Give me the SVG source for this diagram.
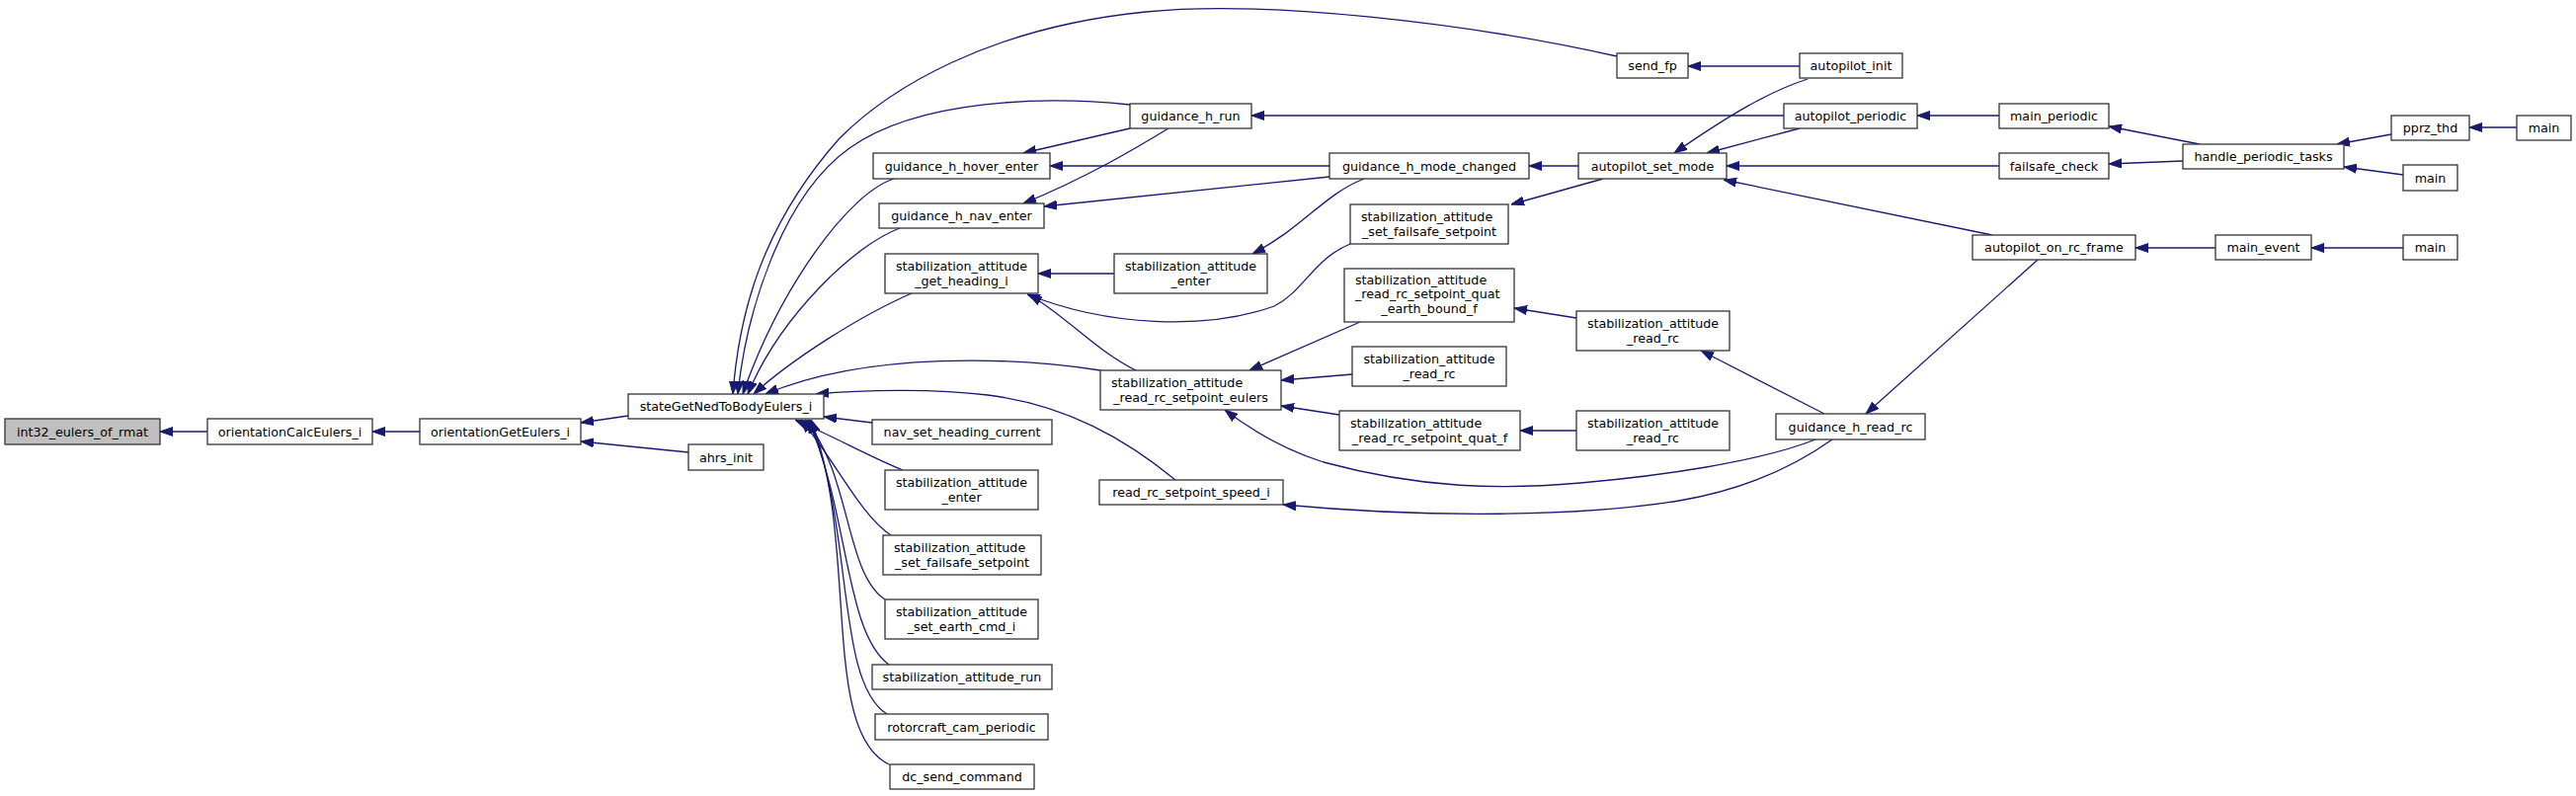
<svg xmlns="http://www.w3.org/2000/svg" width="2608" height="806" viewBox="0 0 2608 806">
<style>
.node rect{fill:#fff;stroke:#333;stroke-width:1.3}
.node rect.root{fill:#bfbfbf}
text{font-family:"DejaVu Sans","Liberation Sans",sans-serif;font-size:12.7px;fill:#000}
.c{text-anchor:middle}
.l{text-anchor:start}
#edges path{fill:none;stroke:#191970;stroke-width:1.3;marker-end:url(#ah)}
</style>
<defs>
<marker id="ah" viewBox="0 0 13 10" markerWidth="13" markerHeight="10" refX="13" refY="5" markerUnits="userSpaceOnUse" orient="auto">
<path d="M0,0.5 L13,5 L0,9.5 Z" fill="#191970" stroke="#191970" stroke-width="1"/>
</marker>
</defs>
<rect x="0" y="0" width="2608" height="806" fill="#fff"/>
<g id="edges">
<path d="M210,437 L162,437"/>
<path d="M425,437 L377,437"/>
<path d="M636,421 L588,428"/>
<path d="M697,458 L588,447"/>
<path d="M1637,57 C1480,22 1280,0 1160,12 C1000,28 900,90 850,140 C770,230 748,320 742,399"/>
<path d="M1144,106 C1060,97 930,100 860,150 C790,200 755,320 747,399"/>
<path d="M905,181 C860,195 790,290 752,399"/>
<path d="M911,231 C865,248 790,320 757,399"/>
<path d="M923,297 C870,320 800,365 763,399"/>
<path d="M1114,375 C1030,362 880,355 775,399"/>
<path d="M1190,486 C1140,445 1080,410 1000,400 C950,394 880,394 826,399"/>
<path d="M883,428 L834,422"/>
<path d="M914,476 C880,462 850,445 805,425"/>
<path d="M902,542 C870,520 848,470 811,425"/>
<path d="M896,607 C855,580 862,480 815,425"/>
<path d="M900,673 C855,640 860,520 818,425"/>
<path d="M898,723 C845,690 865,530 819,425"/>
<path d="M900,774 C830,740 870,550 821,425"/>
<path d="M1144,130 L1036,155"/>
<path d="M1346,168 L1063,168"/>
<path d="M1183,130 C1150,150 1100,180 1036,206"/>
<path d="M1346,179 L1057,209"/>
<path d="M1806,117 L1267,117"/>
<path d="M1822,67 L1709,67"/>
<path d="M1128,277 L1051,277"/>
<path d="M1367,247 C1330,262 1320,295 1290,310 C1220,335 1120,330 1040,298"/>
<path d="M1150,375 C1110,355 1085,325 1042,298"/>
<path d="M1381,181 C1340,197 1320,230 1268,257"/>
<path d="M1598,168 L1548,168"/>
<path d="M1623,181 L1530,207"/>
<path d="M1596,322 L1533,312"/>
<path d="M1377,326 L1265,375"/>
<path d="M1369,379 L1297,385"/>
<path d="M1356,420 L1297,411"/>
<path d="M1838,445 C1780,468 1680,482 1600,489 C1520,496 1440,495 1340,468 C1300,455 1270,438 1240,415"/>
<path d="M1855,445 C1820,470 1770,495 1700,507 C1600,523 1450,525 1299,511"/>
<path d="M1596,436 L1539,436"/>
<path d="M1830,80 C1790,93 1750,117 1695,155"/>
<path d="M1822,130 L1728,155"/>
<path d="M2024,168 L1748,168"/>
<path d="M2017,238 L1745,182"/>
<path d="M1847,419 L1722,355"/>
<path d="M2063,263 L1889,419"/>
<path d="M2024,117 L1941,117"/>
<path d="M2227,146 L2135,128"/>
<path d="M2210,163 L2135,166"/>
<path d="M2243,251 L2162,251"/>
<path d="M2421,136 L2366,146"/>
<path d="M2433,177 L2373,169"/>
<path d="M2548,129 L2500,129"/>
<path d="M2433,251 L2340,251"/>
</g>
<g id="n0" class="node"><rect class="root" x="5" y="424" width="157" height="26"/><text class="c" x="83.5" y="441.5">int32_eulers_of_rmat</text></g>
<g id="n1" class="node"><rect x="210" y="424" width="167" height="26"/><text class="c" x="293.5" y="441.5">orientationCalcEulers_i</text></g>
<g id="n2" class="node"><rect x="425" y="424" width="163" height="26"/><text class="c" x="506.5" y="441.5">orientationGetEulers_i</text></g>
<g id="n3" class="node"><rect x="636" y="399" width="198" height="25"/><text class="c" x="735" y="416">stateGetNedToBodyEulers_i</text></g>
<g id="n4" class="node"><rect x="697" y="450" width="76" height="26"/><text class="c" x="735" y="467.5">ahrs_init</text></g>
<g id="n5" class="node"><rect x="884" y="155" width="179" height="26"/><text class="c" x="973.5" y="172.5">guidance_h_hover_enter</text></g>
<g id="n6" class="node"><rect x="890" y="206" width="167" height="25"/><text class="c" x="973.5" y="223">guidance_h_nav_enter</text></g>
<g id="n7" class="node"><rect x="896" y="257" width="155" height="40"/><text class="c" x="973.5" y="274">stabilization_attitude</text><text class="c" x="973.5" y="288.5">_get_heading_i</text></g>
<g id="n8" class="node"><rect x="883" y="425" width="182" height="25"/><text class="c" x="974" y="442">nav_set_heading_current</text></g>
<g id="n9" class="node"><rect x="896" y="476" width="155" height="40"/><text class="c" x="973.5" y="493">stabilization_attitude</text><text class="c" x="973.5" y="507.5">_enter</text></g>
<g id="n10" class="node"><rect x="894" y="542" width="160" height="40"/><text class="l" x="905" y="559">stabilization_attitude</text><text class="c" x="974" y="573.5">_set_failsafe_setpoint</text></g>
<g id="n11" class="node"><rect x="896" y="607" width="155" height="40"/><text class="c" x="973.5" y="624">stabilization_attitude</text><text class="c" x="973.5" y="638.5">_set_earth_cmd_i</text></g>
<g id="n12" class="node"><rect x="883" y="673" width="182" height="25"/><text class="c" x="974" y="690">stabilization_attitude_run</text></g>
<g id="n13" class="node"><rect x="886" y="723" width="175" height="26"/><text class="c" x="973.5" y="740.5">rotorcraft_cam_periodic</text></g>
<g id="n14" class="node"><rect x="901" y="774" width="146" height="25"/><text class="c" x="974" y="791">dc_send_command</text></g>
<g id="n15" class="node"><rect x="1637" y="54" width="72" height="25"/><text class="c" x="1673" y="71">send_fp</text></g>
<g id="n16" class="node"><rect x="1144" y="105" width="123" height="25"/><text class="c" x="1205.5" y="122">guidance_h_run</text></g>
<g id="n17" class="node"><rect x="1128" y="257" width="155" height="40"/><text class="c" x="1205.5" y="274">stabilization_attitude</text><text class="c" x="1205.5" y="288.5">_enter</text></g>
<g id="n18" class="node"><rect x="1114" y="375" width="183" height="40"/><text class="l" x="1125" y="392">stabilization_attitude</text><text class="c" x="1205.5" y="406.5">_read_rc_setpoint_eulers</text></g>
<g id="n19" class="node"><rect x="1113" y="486" width="186" height="25"/><text class="c" x="1206" y="503">read_rc_setpoint_speed_i</text></g>
<g id="n20" class="node"><rect x="1346" y="155" width="202" height="26"/><text class="c" x="1447" y="172.5">guidance_h_mode_changed</text></g>
<g id="n21" class="node"><rect x="1367" y="207" width="160" height="40"/><text class="l" x="1378" y="224">stabilization_attitude</text><text class="c" x="1447" y="238.5">_set_failsafe_setpoint</text></g>
<g id="n22" class="node"><rect x="1361" y="272" width="172" height="54"/><text class="l" x="1372" y="287.8">stabilization_attitude</text><text class="l" x="1372" y="302.2">_read_rc_setpoint_quat</text><text class="c" x="1447" y="316.8">_earth_bound_f</text></g>
<g id="n23" class="node"><rect x="1369" y="351" width="156" height="40"/><text class="c" x="1447" y="368">stabilization_attitude</text><text class="c" x="1447" y="382.5">_read_rc</text></g>
<g id="n24" class="node"><rect x="1356" y="416" width="183" height="40"/><text class="l" x="1367" y="433">stabilization_attitude</text><text class="c" x="1447.5" y="447.5">_read_rc_setpoint_quat_f</text></g>
<g id="n25" class="node"><rect x="1598" y="155" width="150" height="26"/><text class="c" x="1673" y="172.5">autopilot_set_mode</text></g>
<g id="n26" class="node"><rect x="1596" y="315" width="155" height="40"/><text class="c" x="1673.5" y="332">stabilization_attitude</text><text class="c" x="1673.5" y="346.5">_read_rc</text></g>
<g id="n27" class="node"><rect x="1596" y="416" width="155" height="40"/><text class="c" x="1673.5" y="433">stabilization_attitude</text><text class="c" x="1673.5" y="447.5">_read_rc</text></g>
<g id="n28" class="node"><rect x="1822" y="54" width="104" height="25"/><text class="c" x="1874" y="71">autopilot_init</text></g>
<g id="n29" class="node"><rect x="1806" y="105" width="135" height="25"/><text class="c" x="1873.5" y="122">autopilot_periodic</text></g>
<g id="n30" class="node"><rect x="1997" y="238" width="165" height="25"/><text class="c" x="2079.5" y="255">autopilot_on_rc_frame</text></g>
<g id="n31" class="node"><rect x="1798" y="419" width="151" height="26"/><text class="c" x="1873.5" y="436.5">guidance_h_read_rc</text></g>
<g id="n32" class="node"><rect x="2024" y="105" width="111" height="25"/><text class="c" x="2079.5" y="122">main_periodic</text></g>
<g id="n33" class="node"><rect x="2024" y="155" width="111" height="26"/><text class="c" x="2079.5" y="172.5">failsafe_check</text></g>
<g id="n34" class="node"><rect x="2243" y="238" width="97" height="25"/><text class="c" x="2291.5" y="255">main_event</text></g>
<g id="n35" class="node"><rect x="2210" y="146" width="163" height="25"/><text class="c" x="2291.5" y="163">handle_periodic_tasks</text></g>
<g id="n36" class="node"><rect x="2421" y="117" width="79" height="25"/><text class="c" x="2460.5" y="134">pprz_thd</text></g>
<g id="n37" class="node"><rect x="2548" y="117" width="55" height="25"/><text class="c" x="2575.5" y="134">main</text></g>
<g id="n38" class="node"><rect x="2433" y="167" width="55" height="26"/><text class="c" x="2460.5" y="184.5">main</text></g>
<g id="n39" class="node"><rect x="2433" y="238" width="55" height="25"/><text class="c" x="2460.5" y="255">main</text></g>
</svg>
